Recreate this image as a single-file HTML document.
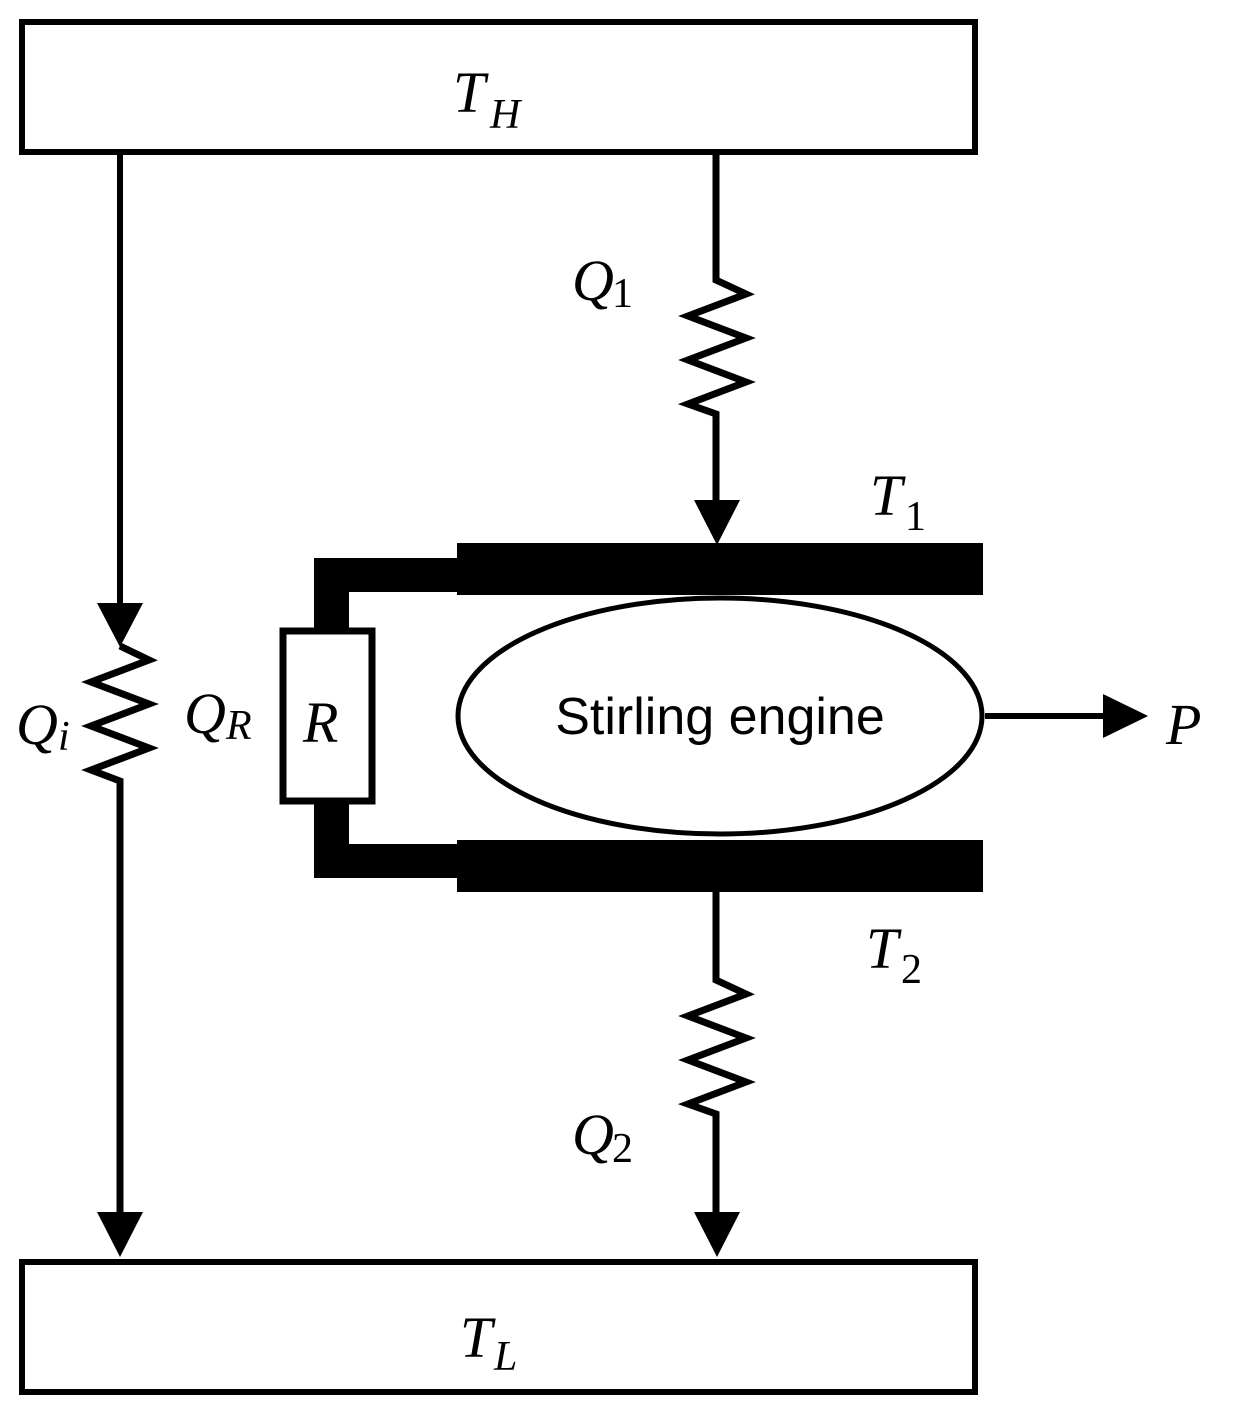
<!DOCTYPE html>
<html><head><style>
html,body{margin:0;padding:0;background:#fff;}
svg{display:block;}
text{font-family:"Liberation Serif",serif;fill:#000;}
.i{font-style:italic;}
.n{font-style:normal;}
</style></head><body>
<svg width="1233" height="1417" viewBox="0 0 1233 1417" xmlns="http://www.w3.org/2000/svg">
<g fill="none" stroke="#000" stroke-width="6">
<rect x="22" y="22" width="953" height="130"/>
<rect x="22" y="1262" width="953" height="130"/>
<polyline points="120,152 120,606"/>
<polyline points="120,646 149,660 91,682 149,704 91,726 149,748 91,770 120,781 120,1215" stroke-width="7" stroke-linejoin="miter"/>
<polyline points="716,155 716,280 746,294 688,316 746,338 688,360 746,382 688,404 716,414 716,505" stroke-width="7"/>
<polyline points="716,892 716,980 746,994 688,1016 746,1038 688,1060 746,1082 688,1104 716,1114 716,1215" stroke-width="7"/>
<rect x="283" y="631" width="89" height="170" stroke-width="7"/>
<ellipse cx="720" cy="716" rx="262" ry="118" stroke-width="5"/>
<line x1="985" y1="716" x2="1108" y2="716"/>
</g>
<g fill="#000">
<polygon points="97,603 143,603 120,647"/>
<polygon points="97,1212 143,1212 120,1257"/>
<polygon points="694,500 740,500 717,545"/>
<polygon points="694,1212 740,1212 717,1257"/>
<polygon points="1103,694 1103,738 1148,716"/>
<rect x="457" y="543" width="526" height="52"/>
<rect x="457" y="840" width="526" height="52"/>
<rect x="314" y="558" width="145" height="34"/>
<rect x="314" y="558" width="35" height="71"/>
<rect x="314" y="844" width="145" height="34"/>
<rect x="314" y="803" width="35" height="75"/>
</g>
<text class="i" x="453" y="112" font-size="58">T</text><text class="i" x="490" y="128" font-size="42">H</text>
<text class="i" x="460" y="1357" font-size="58">T</text><text class="i" x="494" y="1370" font-size="42">L</text>
<text class="i" x="572" y="300" font-size="58">Q</text><text class="n" x="612" y="307" font-size="42">1</text>
<text class="i" x="572" y="1154" font-size="58">Q</text><text class="n" x="612" y="1162" font-size="42">2</text>
<text class="i" x="870" y="515" font-size="58">T</text><text class="n" x="905" y="530" font-size="42">1</text>
<text class="i" x="866" y="968" font-size="58">T</text><text class="n" x="901" y="983" font-size="42">2</text>
<text class="i" x="16" y="744" font-size="58">Q</text><text class="i" x="58" y="750" font-size="42">i</text>
<text class="i" x="184" y="733" font-size="58">Q</text><text class="i" x="226" y="739" font-size="42">R</text>
<text class="i" x="303" y="742" font-size="58">R</text>
<text class="i" x="1166" y="744" font-size="58">P</text>
<text class="n" x="720" y="734" font-size="52" text-anchor="middle" style="font-family:'Liberation Sans',sans-serif">Stirling engine</text>
</svg>
</body></html>
